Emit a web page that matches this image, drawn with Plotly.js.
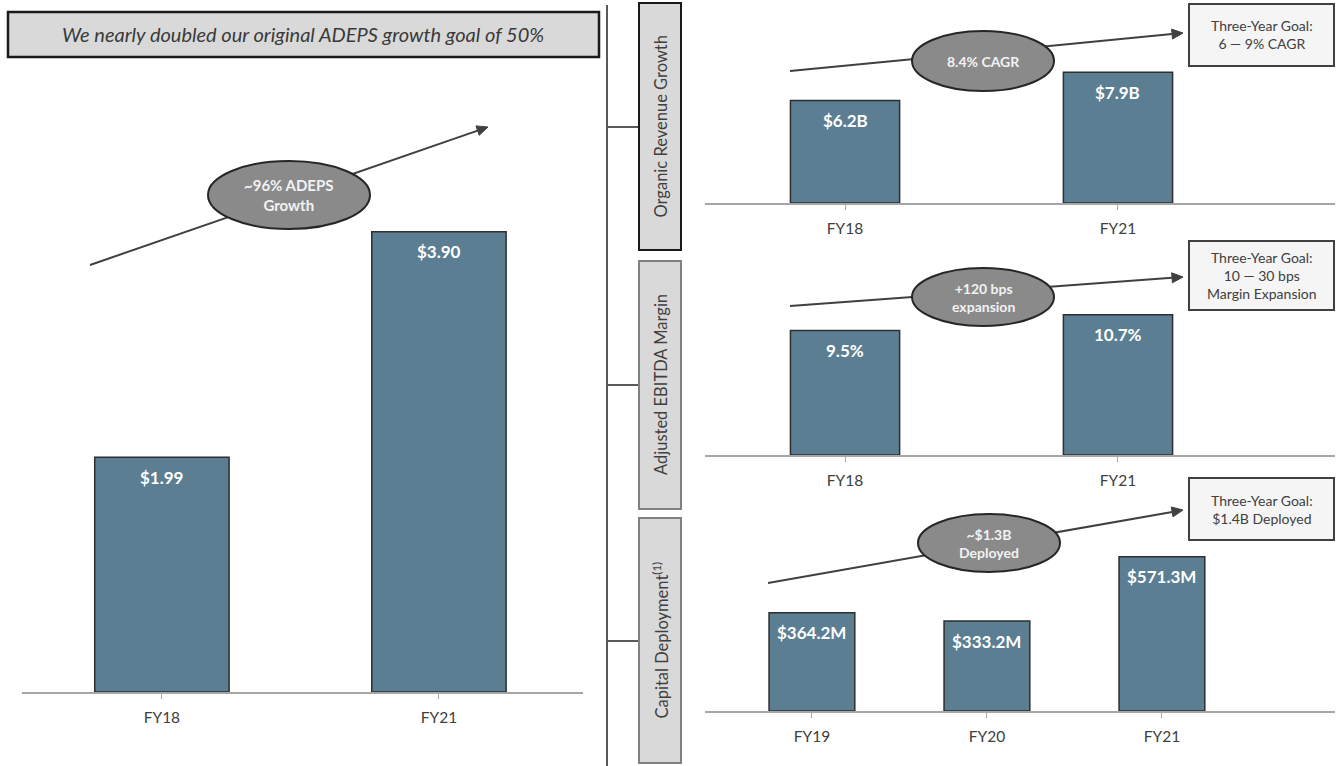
<!DOCTYPE html>
<html>
<head>
<meta charset="utf-8">
<script src="https://cdn.plot.ly/plotly-3.0.1.min.js"></script>
<style>html,body{margin:0;padding:0;background:#fff;}#chart{width:1343px;height:766px;}</style>
</head>
<body>
<div id="chart"></div>
<script>
// ---- data ----
const epsCategories = ["FY18", "FY21"];
const epsValues = [1.99, 3.90];
const epsLabels = ["$1.99", "$3.90"];

const revCategories = ["FY18", "FY21"];
const revValues = [6.2, 7.9];
const revLabels = ["$6.2B", "$7.9B"];

const marginCategories = ["FY18", "FY21"];
const marginValues = [9.5, 10.7];
const marginLabels = ["9.5%", "10.7%"];

const capCategories = ["FY19", "FY20", "FY21"];
const capValues = [364.2, 333.2, 571.3];
const capLabels = ["$364.2M", "$333.2M", "$571.3M"];

const titleText = "We nearly doubled our original ADEPS growth goal of 50%";
const sectionNames = ["Organic Revenue Growth", "Adjusted EBITDA Margin", "Capital Deployment<sup>(1)</sup>"];
const bubbleTexts = ["~96% ADEPS<br>Growth", "8.4% CAGR", "+120 bps<br>expansion", "~$1.3B<br>Deployed"];
const goalTexts = ["Three-Year Goal:<br>6 \u2014 9% CAGR", "Three-Year Goal:<br>10 \u2014 30 bps<br>Margin Expansion", "Three-Year Goal:<br>$1.4B Deployed"];

// ---- helpers (pixel -> paper) ----
const W = 1343, H = 766;
const px = x => x / W;
const py = y => 1 - y / H;

const BAR = "#5b7e93", BAREDGE = "#2e2e2e", TXT = "#404040";
const FONT = "Lato, 'Open Sans', sans-serif";

function barTrace(cats, vals, xa, ya, width) {
  return {type: "bar", x: cats, y: vals, xaxis: xa, yaxis: ya, width: width,
    marker: {color: BAR, line: {color: BAREDGE, width: 1.5}}, hoverinfo: "skip", showlegend: false};
}
const traces = [
  barTrace(epsCategories, epsValues, "x", "y", 0.485),
  barTrace(revCategories, revValues, "x2", "y2", 0.40),
  barTrace(marginCategories, marginValues, "x3", "y3", 0.40),
  barTrace(capCategories, capValues, "x4", "y4", 0.49)
];

function xAxis(d0, d1, r0, r1, anchor) {
  return {domain: [px(d0), px(d1)], range: [r0, r1], anchor: anchor, type: "category",
    showline: true, linecolor: "#a6a6a6", linewidth: 2, ticks: "outside", ticklen: 5, tickcolor: "#a6a6a6",
    ticklabelstandoff: 5,
    tickfont: {family: FONT, size: 15.5, color: TXT}, showgrid: false, zeroline: false, fixedrange: true};
}
function yAxis(bottom, top, r1, anchor) {
  return {domain: [py(bottom), py(top)], range: [0, r1], anchor: anchor, visible: false, fixedrange: true};
}

const shapes = [];
const annotations = [];
function label(x, y, text, font, extra) {
  annotations.push(Object.assign({xref: "paper", yref: "paper", x: px(x), y: py(y), xanchor: "center", yanchor: "middle",
    text: text, showarrow: false, font: font}, extra || {}));
}

// title box
shapes.push({type: "rect", xref: "paper", yref: "paper", x0: px(8), x1: px(599), y0: py(57), y1: py(12),
  fillcolor: "#d9d9d9", line: {color: "#1a1a1a", width: 2.5}});
label(303, 34, "<i>" + titleText + "</i>", {family: FONT, size: 20, color: "#3a3a3a"});

// separator + branches
shapes.push({type: "line", xref: "paper", yref: "paper", x0: px(607), x1: px(607), y0: py(5), y1: py(766), line: {color: "#595959", width: 2}});
[127, 385, 641].forEach(y => shapes.push({type: "line", xref: "paper", yref: "paper", x0: px(607), x1: px(639), y0: py(y), y1: py(y), line: {color: "#595959", width: 2}}));

// section label boxes
const secBoxes = [[3, 250, "#1a1a1a"], [261, 509, "#808080"], [518, 763, "#808080"]];
secBoxes.forEach((b, i) => {
  shapes.push({type: "rect", xref: "paper", yref: "paper", x0: px(639), x1: px(681), y0: py(b[1]), y1: py(b[0]),
    fillcolor: "#d9d9d9", line: {color: b[2], width: 2}});
  label(661, (b[0] + b[1]) / 2, sectionNames[i], {family: FONT, size: 16.5, color: TXT}, {textangle: -90});
});

// arrows: line shape + triangular head, then ellipse on top
const arrows = [[90, 265, 488, 127], [790, 71, 1183, 33], [790, 306, 1183, 277], [768, 583, 1183, 510]];
const bubbles = [[289, 195, 81, 34], [983, 61, 71, 30], [983, 297, 71, 29], [989, 543, 71, 29]];
const bubbleFont = [15, 14, 14, 14];
arrows.forEach(a => {
  const dx = a[2] - a[0], dy = a[3] - a[1], L = Math.hypot(dx, dy);
  const ux = dx / L, uy = dy / L, hl = 11, hw = 5;
  const bx = a[2] - ux * hl, by = a[3] - uy * hl;
  shapes.push({type: "line", xref: "paper", yref: "paper", x0: px(a[0]), y0: py(a[1]), x1: px(bx), y1: py(by),
    line: {color: "#404040", width: 2}});
  const p1 = [bx - uy * hw, by + ux * hw], p2 = [bx + uy * hw, by - ux * hw];
  shapes.push({type: "path", xref: "paper", yref: "paper",
    path: `M${px(a[2])},${py(a[3])} L${px(p1[0])},${py(p1[1])} L${px(p2[0])},${py(p2[1])} Z`,
    fillcolor: "#404040", line: {color: "#404040", width: 1}});
});
bubbles.forEach((b, i) => {
  shapes.push({type: "circle", xref: "paper", yref: "paper", x0: px(b[0] - b[2]), x1: px(b[0] + b[2]),
    y0: py(b[1] + b[3]), y1: py(b[1] - b[3]), fillcolor: "#8a8a8a", line: {color: "#262626", width: 2}});
  label(b[0], b[1], "<b>" + bubbleTexts[i] + "</b>", {family: FONT, size: bubbleFont[i], color: "#f2f2f2"});
});

// goal boxes
const goals = [[4, 66], [241, 310], [478, 540]];
goals.forEach((g, i) => {
  shapes.push({type: "rect", xref: "paper", yref: "paper", x0: px(1189), x1: px(1334), y0: py(g[1]), y1: py(g[0]),
    fillcolor: "#f5f5f5", line: {color: "#404040", width: 2}});
  label(1261.5, (g[0] + g[1]) / 2, goalTexts[i], {family: FONT, size: 14, color: TXT});
});

// bar value labels (inside, near top)
function barLabels(cats, vals, labels, xa, ya) {
  cats.forEach((c, i) => annotations.push({xref: xa, yref: ya, x: c, y: vals[i], yshift: -20,
    xanchor: "center", yanchor: "middle", text: "<b>" + labels[i] + "</b>",
    showarrow: false, font: {family: FONT, size: 17, color: "#ffffff"}}));
}
barLabels(epsCategories, epsValues, epsLabels, "x", "y");
barLabels(revCategories, revValues, revLabels, "x2", "y2");
barLabels(marginCategories, marginValues, marginLabels, "x3", "y3");
barLabels(capCategories, capValues, capLabels, "x4", "y4");

const layout = {
  width: W, height: H, margin: {l: 0, r: 0, t: 0, b: 0}, paper_bgcolor: "#ffffff", plot_bgcolor: "rgba(0,0,0,0)",
  showlegend: false, bargap: 0,
  xaxis: xAxis(22, 583, -0.505, 1.52, "y"),
  yaxis: yAxis(692, 100, 592 / 118, "x"),
  xaxis2: xAxis(705, 1335, -0.513, 1.795, "y2"),
  yaxis2: yAxis(203, 40, 163 / 16.55, "x2"),
  xaxis3: xAxis(705, 1335, -0.513, 1.795, "y3"),
  yaxis3: yAxis(455, 290, 165 / 13.1, "x3"),
  xaxis4: xAxis(705, 1335, -0.611, 2.989, "y4"),
  yaxis4: yAxis(711, 540, 171 / 0.27, "x4"),
  shapes: shapes,
  annotations: annotations
};

Plotly.newPlot("chart", traces, layout, {displayModeBar: false, staticPlot: true});
</script>
</body>
</html>
